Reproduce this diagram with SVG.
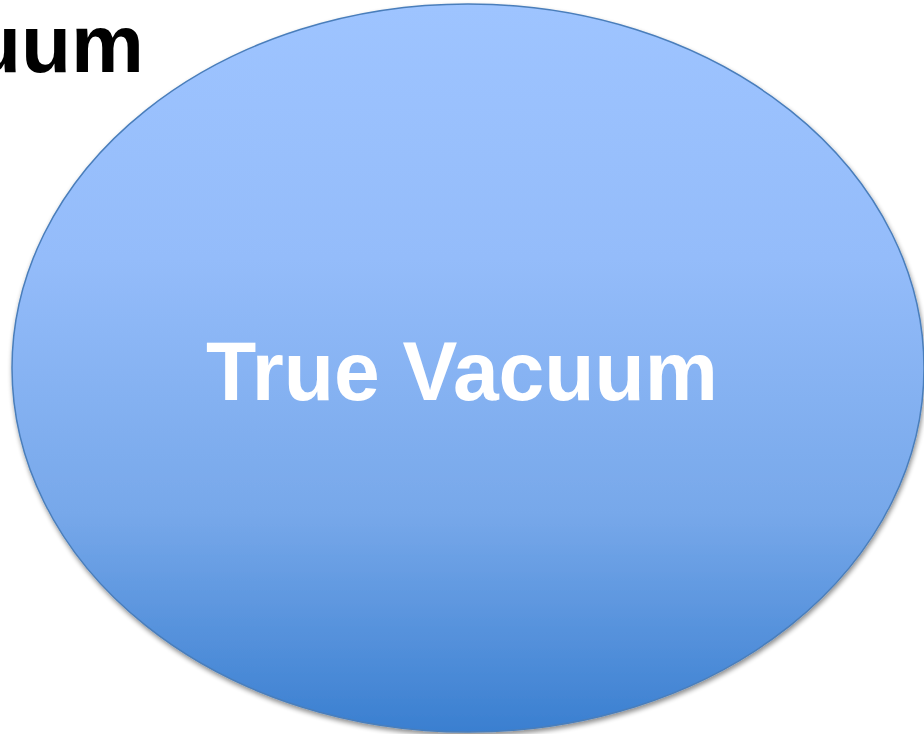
<svg xmlns="http://www.w3.org/2000/svg" width="924" height="734" viewBox="0 0 924 734">
  <defs>
    <linearGradient id="fillGrad" x1="0" y1="0" x2="0" y2="1">
      <stop offset="0" stop-color="#9ec4ff"/>
      <stop offset="0.35" stop-color="#94bcfa"/>
      <stop offset="0.7" stop-color="#77a8ea"/>
      <stop offset="1" stop-color="#3a7fd0"/>
    </linearGradient>
    <filter id="shadow" x="-5%" y="-5%" width="110%" height="110%">
      <feGaussianBlur in="SourceAlpha" stdDeviation="2.5"/>
      <feOffset dx="1" dy="2.5" result="b"/>
      <feComponentTransfer><feFuncA type="linear" slope="0.45"/></feComponentTransfer>
      <feMerge><feMergeNode/><feMergeNode in="SourceGraphic"/></feMerge>
    </filter>
    <style>
      .title { font-family: "Liberation Sans", Arial, sans-serif; font-weight: bold; fill: #000000; }
      .label { font-family: "Liberation Sans", Arial, sans-serif; font-weight: bold; fill: #ffffff; }
      .node { fill: url(#fillGrad); stroke: #4a7ebb; stroke-width: 1.5; }
    </style>
  </defs>
  <rect width="924" height="734" fill="#ffffff"/>
  <text class="title" x="144" y="72" font-size="82" text-anchor="end">uum</text>
  <g id="true-vacuum">
    <ellipse class="node" cx="468" cy="368" rx="456" ry="364" filter="url(#shadow)"/>
    <text class="label" x="462" y="400" font-size="84" text-anchor="middle" textLength="512" lengthAdjust="spacingAndGlyphs">True Vacuum</text>
  </g>
  <g id="connectors"/>
</svg>
